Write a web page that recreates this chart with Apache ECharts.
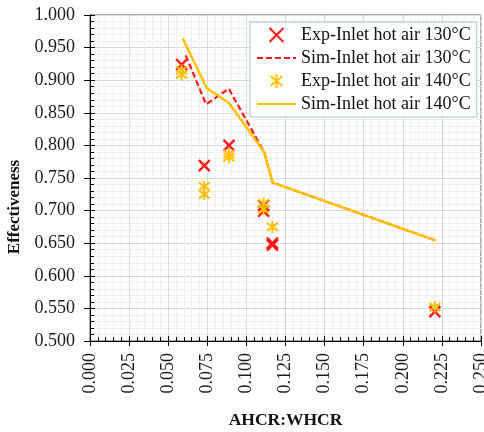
<!DOCTYPE html>
<html>
<head>
<meta charset="utf-8">
<script src="https://cdn.jsdelivr.net/npm/echarts@6/dist/echarts.min.js"></script>
<style>
  html, body { margin: 0; padding: 0; background: #fff; }
  #chart { width: 484px; height: 432px; }
</style>
</head>
<body>
<div id="chart"></div>
<script>
// data
var exp130X = [0.0586, 0.0731, 0.0889, 0.1110, 0.1110, 0.1166, 0.1166, 0.2205];
var exp130Y = [0.924, 0.769, 0.800, 0.708, 0.699, 0.650, 0.647, 0.545];
var sim130X = [0.0612, 0.0742, 0.0887, 0.1113, 0.1168, 0.2212];
var sim130Y = [0.938, 0.863, 0.887, 0.790, 0.743, 0.654];
var exp140X = [0.0586, 0.0586, 0.0731, 0.0731, 0.0889, 0.0889, 0.1110, 0.1110, 0.1166, 0.2205];
var exp140Y = [0.915, 0.909, 0.737, 0.725, 0.787, 0.782, 0.711, 0.702, 0.675, 0.552];
var sim140X = [0.0593, 0.0746, 0.0889, 0.1113, 0.1168, 0.2212];
var sim140Y = [0.964, 0.888, 0.865, 0.790, 0.743, 0.654];
var seriesNames = ['Exp-Inlet hot air 130°C', 'Sim-Inlet hot air 130°C', 'Exp-Inlet hot air 140°C', 'Sim-Inlet hot air 140°C'];

function pairs(xs, ys) {
    var out = [];
    for (var i = 0; i < xs.length; i++) out.push([xs[i], ys[i]]);
    return out;
}

var serif = '"Liberation Serif", "DejaVu Serif", serif';
var crossPath = 'path://M0,0L10,10M0,10L10,0';
var starPath = 'path://M5,0L5,12M0,2L10,10M0,10L10,2';

var myChart = echarts.init(document.getElementById('chart'));

var xBase = { type: 'value', min: 0, max: 0.25, interval: 0.025, position: 'bottom' };
var yBase = { type: 'value', min: 0.5, max: 1.0, interval: 0.05, position: 'left' };

myChart.setOption({
    animation: false,
    grid: {
        left: 90, top: 15, right: 3, bottom: 91,
        outerBoundsMode: 'none',
        show: true, borderColor: '#555', borderWidth: 1
    },
    legend: {
        orient: 'vertical',
        left: 250,
        top: 22,
        width: 225,
        padding: [4, 6, 4, 6],
        itemWidth: 39,
        itemHeight: 14,
        itemGap: 5,
        backgroundColor: '#fff',
        borderColor: '#a9c2e2',
        borderWidth: 1,
        borderRadius: 0,
        data: [
            { name: seriesNames[0] },
            { name: seriesNames[1], itemStyle: { opacity: 0 } },
            { name: seriesNames[2] },
            { name: seriesNames[3], itemStyle: { opacity: 0 } }
        ],
        textStyle: { fontFamily: serif, fontSize: 18, color: '#111', lineHeight: 18 }
    },
    xAxis: [
        Object.assign({}, xBase, {
            name: 'AHCR:WHCR',
            nameLocation: 'middle',
            nameGap: 70,
            nameTextStyle: { fontFamily: serif, fontSize: 17.5, fontWeight: 'bold', color: '#111' },
            axisLine: { onZero: false, lineStyle: { color: '#000', width: 1 } },
            axisTick: { show: true, inside: false, length: 5, lineStyle: { color: '#000' } },
            axisLabel: {
                rotate: 90, margin: 12,
                fontFamily: serif, fontSize: 18, color: '#1a1a1a',
                formatter: function (v) { return v.toFixed(3); }
            },
            splitLine: { show: true, lineStyle: { color: '#d9d9d9', width: 1 } },
            minorTick: { show: false, splitNumber: 5 },
            minorSplitLine: { show: true, lineStyle: { color: '#efefef', width: 1 } }
        }),
        Object.assign({}, xBase, {
            axisLine: { show: false, onZero: false },
            axisTick: { show: true, inside: true, length: 5, lineStyle: { color: '#000' } },
            axisLabel: { show: false },
            splitLine: { show: false },
            minorTick: { show: true, splitNumber: 5, length: 4, lineStyle: { color: '#000' } },
            minorSplitLine: { show: false }
        })
    ],
    yAxis: [
        Object.assign({}, yBase, {
            name: 'Effectiveness',
            nameLocation: 'middle',
            nameGap: 57,
            nameTextStyle: {
                fontFamily: serif, fontSize: 17, fontWeight: 'bold', color: '#111',
                padding: [0, 58, 0, 0]
            },
            axisLine: { show: true, onZero: false, lineStyle: { color: '#000', width: 1 } },
            axisTick: { show: true, inside: false, length: 6, lineStyle: { color: '#000' } },
            axisLabel: {
                margin: 15,
                fontFamily: serif, fontSize: 18, color: '#1a1a1a',
                formatter: function (v) { return v.toFixed(3); }
            },
            splitLine: { show: true, lineStyle: { color: '#d9d9d9', width: 1 } },
            minorTick: { show: false, splitNumber: 5 },
            minorSplitLine: { show: true, lineStyle: { color: '#efefef', width: 1 } }
        }),
        Object.assign({}, yBase, {
            axisLine: { show: false, onZero: false },
            axisTick: { show: true, inside: true, length: 5, lineStyle: { color: '#000' } },
            axisLabel: { show: false },
            splitLine: { show: false },
            minorTick: { show: true, splitNumber: 5, length: 4, lineStyle: { color: '#000' } },
            minorSplitLine: { show: false }
        })
    ],
    series: [
        {
            name: seriesNames[0],
            type: 'scatter',
            data: pairs(exp130X, exp130Y),
            symbol: crossPath,
            symbolSize: 11,
            itemStyle: { color: 'transparent', borderColor: '#ff1a1a', borderWidth: 2.4, opacity: 1 }
        },
        {
            name: seriesNames[1],
            type: 'line',
            data: pairs(sim130X, sim130Y),
            symbol: 'none',
            lineStyle: { color: '#ff1a1a', width: 2.2, type: [6, 3] },
            itemStyle: { color: '#ff1a1a' }
        },
        {
            name: seriesNames[2],
            type: 'scatter',
            data: pairs(exp140X, exp140Y),
            symbol: starPath,
            symbolSize: [11, 12],
            itemStyle: { color: 'transparent', borderColor: '#ffc000', borderWidth: 2, opacity: 1 }
        },
        {
            name: seriesNames[3],
            type: 'line',
            data: pairs(sim140X, sim140Y),
            symbol: 'none',
            lineStyle: { color: '#ffc000', width: 2.5, type: 'solid' },
            itemStyle: { color: '#ffc000' }
        }
    ]
});
</script>
</body>
</html>
